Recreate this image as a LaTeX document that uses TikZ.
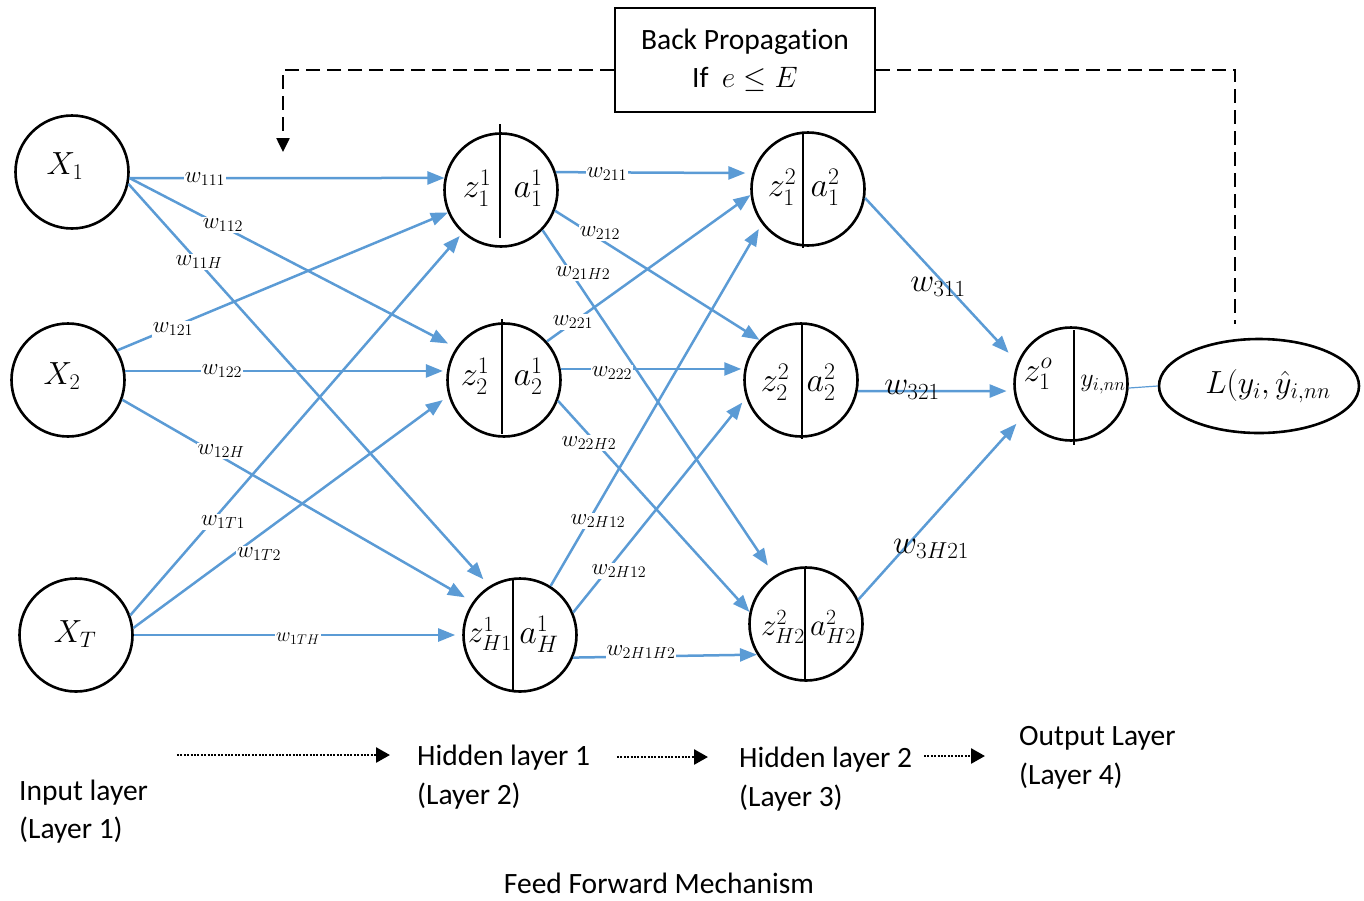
\RequirePackage{fix-cm}
\documentclass[tikz,border=0pt]{standalone}
\usepackage[no-math]{fontspec}
\setmainfont{Carlito}[Ligatures=NoCommon]
\usetikzlibrary{arrows.meta,calc,shapes.geometric}

\definecolor{wblue}{HTML}{5B9BD5}

\begin{document}
\begin{tikzpicture}[x=1pt,y=-1pt,
  neuron/.style={circle,draw=black,line width=2.6pt,minimum size=113pt,inner sep=0pt},
  divline/.style={black,line width=1.3pt},
  wire/.style={wblue,line width=2.5pt,-{Triangle[length=17pt,width=13pt]}},
  wlab/.style={fill=white,inner sep=1pt,font=\fontsize{23}{23}\selectfont},
  wlabbig/.style={inner sep=0pt,font=\fontsize{33}{33}\selectfont},
  ntext/.style={inner sep=0pt,font=\fontsize{34}{34}\selectfont},
  caption/.style={inner sep=0pt,anchor=base west,font=\fontsize{29.5}{34}\selectfont},
  backline/.style={black,line width=2.5pt,dash pattern=on 14pt off 7pt},
  flowline/.style={black,line width=2.6pt,dash pattern=on 2pt off 1.4pt,-{Triangle[length=14pt,width=15pt]}}
]
\useasboundingbox (0,0) rectangle (1364,900);

% ---------- neurons ----------
\node[neuron] (X1) at (72,172) {};
\node[neuron] (X2) at (68,380) {};
\node[neuron] (XT) at (76,635) {};
\node[neuron] (H11) at (501,190) {};
\node[neuron] (H12) at (504,380) {};
\node[neuron] (H1H) at (520,635) {};
\node[neuron] (H21) at (808,189) {};
\node[neuron] (H22) at (801,380) {};
\node[neuron] (H2H) at (806,624) {};
\node[neuron] (Out) at (1071,384) {};
\node[ellipse,draw=black,line width=2.6pt,minimum width=200pt,minimum height=94pt,inner sep=0pt] (Loss) at (1259,386) {};

% split lines inside the hidden and output neurons
\draw[divline] ($(H11.center)+(-1,-66)$) -- ($(H11.center)+(-1,48)$);
\draw[divline] ($(H12.center)+(-2,-61)$) -- ($(H12.center)+(-2,54)$);
\draw[divline] ($(H1H.center)+(-7,-56)$) -- ($(H1H.center)+(-7,56)$);
\draw[divline] ($(H21.center)+(-5,-56)$) -- ($(H21.center)+(-5,59)$);
\draw[divline] ($(H22.center)+(1,-56)$) -- ($(H22.center)+(1,59)$);
\draw[divline] ($(H2H.center)+(-1,-55)$) -- ($(H2H.center)+(-1,55)$);
\draw[divline] ($(Out.center)+(3,-54)$) -- ($(Out.center)+(3,61)$);

% ---------- neuron contents ----------
\node[ntext,font=\fontsize{32}{32}\selectfont] (tX1) at (65,166) {$X_1$};
\node[ntext,font=\fontsize{32}{32}\selectfont] (tX2) at (62,376) {$X_2$};
\node[ntext,font=\fontsize{32}{32}\selectfont] (tXT) at (75,634) {$X_T$};
\node[ntext] (z11) at (477,188) {$z_1^1$};
\node[ntext] (a11) at (528,188) {$a_1^1$};
\node[ntext] (z21) at (475,376) {$z_2^1$};
\node[ntext] (a21) at (528,376) {$a_2^1$};
\node[ntext,font=\fontsize{31}{31}\selectfont] (zH1) at (490,634) {$z_{H1}^1$};
\node[ntext] (aH1) at (539,634) {$a_H^1$};
\node[ntext] (z12) at (782,187) {$z_1^2$};
\node[ntext] (a12) at (825,187) {$a_1^2$};
\node[ntext] (z22) at (775,382) {$z_2^2$};
\node[ntext] (a22) at (821,382) {$a_2^2$};
\node[ntext,font=\fontsize{31}{31}\selectfont] (zH2) at (783,627) {$z_{H2}^2$};
\node[ntext,font=\fontsize{31}{31}\selectfont] (aH2) at (833,627) {$a_{H2}^2$};
\node[ntext] (zo) at (1038,374) {$z_1^o$};
\node[ntext,font=\fontsize{26}{26}\selectfont] (yo) at (1103,385) {$y_{i,nn}$};
\node[ntext,font=\fontsize{32}{32}\selectfont] (tL) at (1268,386) {$L(y_i,\hat{y}_{i,nn}$};

% ---------- weighted connections ----------
\draw[wire] (X1.-6) -- (H11.168);
\draw[wire,shorten >=9pt] (X1.-6) -- (H12.146);
\draw[wire,shorten >=9pt] (X1.-12) -- (H1H.122);
\draw[wire] (X2.31) -- (H11.203);
\draw[wire,shorten >=4pt] (X2.9) -- (H12.171);
\draw[wire,shorten >=9pt] (X2.-20) -- (H1H.145);
\draw[wire,shorten >=4pt] (XT.20) -- (H11.228);
\draw[wire,shorten >=7pt] (XT.7) -- (H12.196);
\draw[wire,shorten >=7pt] (XT.0) -- (H1H.180);

\draw[wire,shorten >=7pt] (H11.18) -- (H21.164);
\draw[wire] (H11.-21) -- (H22.136);
\draw[wire,shorten >=12pt] (H11.-44) -- (H2H.123);
\draw[wire] (H12.42) -- (H21.186);
\draw[wire,shorten >=3pt] (H12.11) -- (H22.169);
\draw[wire] (H12.-21) -- (H2H.168);
\draw[wire,shorten >=6pt] (H1H.58) -- (H21.217);
\draw[wire,shorten >=6pt] (H1H.23) -- (H22.198);
\draw[wire] (H1H.-23) -- (H2H.212);

\draw[wire,shorten >=13pt] (H21.-9) -- (Out.158);
\draw[wire,shorten >=7pt] (H22.-11) -- (Out.187);
\draw[wire,shorten >=10pt] (H2H.25) -- (Out.214);

\draw[wblue,line width=1.2pt] (Out.-4) -- (Loss.180);

% ---------- weight labels ----------
\node[wlab] (l111) at (205,179) {$w_{111}$};
\node[wlab] (l112) at (223,225) {$w_{112}$};
\node[wlab] (l11H) at (199,262) {$w_{11H}$};
\node[wlab] (l121) at (173,329) {$w_{121}$};
\node[wlab] (l122) at (222,371) {$w_{122}$};
\node[wlab] (l12H) at (221,451) {$w_{12H}$};
\node[wlab] (l1T1) at (223,522) {$w_{1T1}$};
\node[wlab] (l1T2) at (259,554) {$w_{1T2}$};
\node[wlab,font=\fontsize{20}{20}\selectfont] (l1TH) at (298,639) {$w_{1TH}$};
\node[wlab] (l211) at (607,174) {$w_{211}$};
\node[wlab] (l212) at (600,233) {$w_{212}$};
\node[wlab] (l21H2) at (583,273) {$w_{21H2}$};
\node[wlab] (l221) at (573,322) {$w_{221}$};
\node[wlab] (l222) at (612,373) {$w_{222}$};
\node[wlab] (l22H2) at (589,443) {$w_{22H2}$};
\node[wlab] (l2H12a) at (598,521) {$w_{2H12}$};
\node[wlab] (l2H12b) at (619,571) {$w_{2H12}$};
\node[wlab] (l2H1H2) at (641,652) {$w_{2H1H2}$};
\node[wlabbig] (l311) at (938,287) {$w_{311}$};
\node[wlabbig] (l321) at (912,390) {$w_{321}$};
\node[wlabbig] (l3H21) at (931,549) {$w_{3H21}$};

% ---------- back propagation loop ----------
\node[draw=black,line width=2pt,minimum width=260pt,minimum height=104pt,align=center,
      font=\fontsize{29.5}{38}\selectfont] (BP) at (745,60)
  {Back Propagation\\If\ \ $e\leq E$};
\coordinate (bpL) at (283,70);
\coordinate (bpLtip) at (283,152);
\coordinate (bpR) at (1235,70);
\coordinate (bpRend) at (1235,324);
\draw[backline,-{Triangle[length=14pt,width=13pt]}] ([yshift=-10pt]BP.west) -- (bpL) -- (bpLtip);
\draw[backline] ([yshift=-10pt]BP.east) -- (bpR) -- (bpRend);

% ---------- layer captions ----------
\node[caption] (cIn1) at (19,800) {Input layer};
\node[caption] (cIn2) at (19,838) {(Layer 1)};
\node[caption] (cH11) at (417,765) {Hidden layer 1};
\node[caption] (cH12) at (417,804) {(Layer 2)};
\node[caption] (cH21) at (739,767) {Hidden layer 2};
\node[caption] (cH22) at (739,806) {(Layer 3)};
\node[caption] (cO1) at (1019,745) {Output Layer};
\node[caption] (cO2) at (1019,784) {(Layer 4)};
\node[inner sep=0pt,anchor=base,font=\fontsize{29.5}{34}\selectfont] (cFF) at (659,893) {Feed Forward Mechanism};

\coordinate (f1a) at (177,755);
\coordinate (f1b) at (390,755);
\coordinate (f2a) at (617,757);
\coordinate (f2b) at (708,757);
\coordinate (f3a) at (924,756);
\coordinate (f3b) at (985,756);
\draw[flowline] (f1a) -- (f1b);
\draw[flowline] (f2a) -- (f2b);
\draw[flowline] (f3a) -- (f3b);
\end{tikzpicture}
\end{document}
